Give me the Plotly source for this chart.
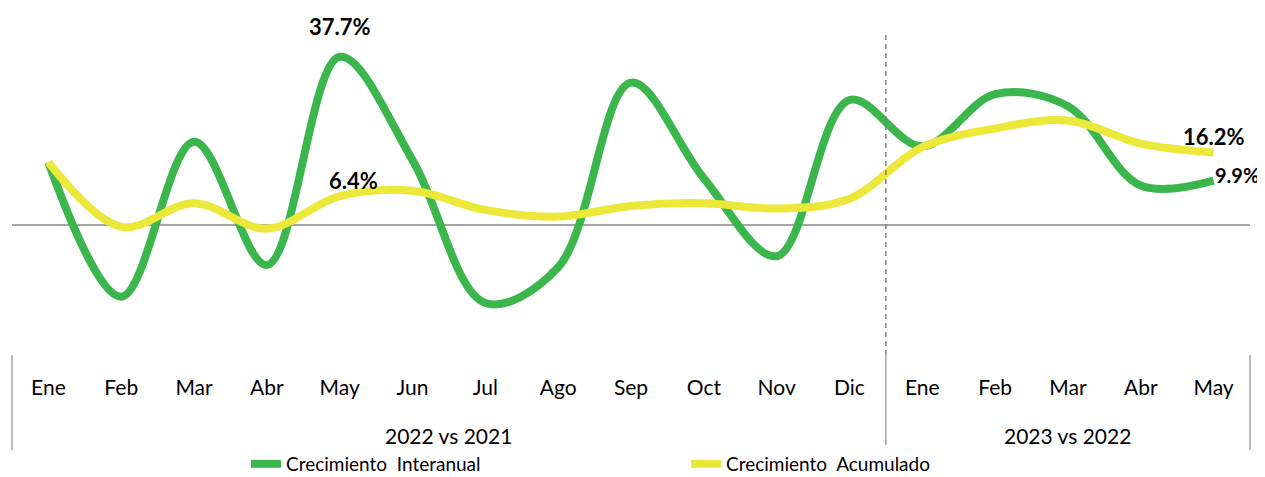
import plotly.graph_objects as go

months = ["Ene", "Feb", "Mar", "Abr", "May", "Jun", "Jul", "Ago", "Sep", "Oct",
          "Nov", "Dic", "Ene", "Feb", "Mar", "Abr", "May"]
periods = ["2022 vs 2021", "2023 vs 2022"]
period_size = [12, 5]

interanual = [14.0, -16.2, 18.6, -9.1, 37.7, 14.5, -17.6, -9.6, 31.9, 10.4,
              -7.1, 28.0, 17.6, 29.3, 26.6, 8.8, 9.9]
acumulado = [14.0, -0.5, 4.8, -0.9, 6.4, 7.6, 3.3, 1.8, 4.2, 4.8,
             3.6, 5.8, 17.4, 21.6, 23.4, 18.2, 16.2]

green = "#3BB64C"
yellow = "#EBE83A"
font_name = "Lato"
pos = list(range(len(months)))

fig = go.Figure()

fig.add_trace(
    go.Scatter(
        x=pos,
        y=interanual,
        mode="lines",
        name="Crecimiento\u00a0\u00a0Interanual",
        line=dict(color=green, width=8, shape="spline", smoothing=1.0)
    )
)

fig.add_trace(
    go.Scatter(
        x=pos,
        y=acumulado,
        mode="lines",
        name="Crecimiento\u00a0\u00a0Acumulado",
        line=dict(color=yellow, width=8, shape="spline", smoothing=1.0)
    )
)

# labels on selected points
labels = [
    (4, interanual[4], "37.7%", 0, 30, "center", 22),
    (4, acumulado[4], "6.4%", 14, 16, "center", 22),
    (16, acumulado[16], "16.2%", 0, 16, "center", 22),
    (16, interanual[16], "9.9%", -1, 6, "left", 20),
]
for idx, val, txt, dx, dy, anchor, size in labels:
    fig.add_annotation(
        x=idx, y=val, text="<b>" + txt + "</b>",
        showarrow=False, xshift=dx, yshift=dy, xanchor=anchor,
        font=dict(size=size, color="black", family=font_name)
    )

# period group labels and dividers under the month labels
n = len(months)
start = 0
fig.add_shape(
    type="line", xref="paper", yref="paper",
    x0=0, x1=0, y0=0, y1=-0.297,
    line=dict(color="#A6A6A6", width=1.5)
)
for name, size in zip(periods, period_size):
    fig.add_annotation(
        x=start + (size - 1) / 2, y=-0.25, xref="x", yref="paper",
        text=name, showarrow=False, yanchor="middle",
        font=dict(size=21, color="black", family=font_name)
    )
    start += size
    fig.add_shape(
        type="line", xref="paper", yref="paper",
        x0=start / n, x1=start / n, y0=0, y1=-0.297,
        line=dict(color="#A6A6A6", width=1.5)
    )

# dashed separator between the two periods
fig.add_shape(
    type="line", xref="paper", yref="paper",
    x0=period_size[0] / n, x1=period_size[0] / n, y0=0, y1=1,
    line=dict(color="#808080", width=1.5, dash="5px,4px")
)

fig.update_xaxes(
    range=[-0.5, n - 0.5],
    tickvals=pos,
    ticktext=months,
    ticks="",
    ticklabelstandoff=18,
    showgrid=False,
    showline=False,
    zeroline=False,
    tickfont=dict(size=21, color="black", family=font_name)
)

fig.update_yaxes(
    range=[-29.3, 42.6],
    showgrid=False,
    showticklabels=False,
    zeroline=True,
    zerolinecolor="#A6A6A6",
    zerolinewidth=1.5
)

# page body adds an 8px offset, so the figure is 8px smaller than the window
fig.update_layout(
    width=1257,
    height=469,
    margin=dict(l=4, r=15, t=27, b=122),
    paper_bgcolor="white",
    plot_bgcolor="white",
    font=dict(family=font_name, size=21, color="black"),
    showlegend=True,
    legend=dict(
        orientation="h",
        xref="container", yref="container",
        x=238 / 1257, y=13 / 469,
        xanchor="left", yanchor="middle",
        entrywidth=395, entrywidthmode="pixels",
        font=dict(size=19, family=font_name, color="black")
    )
)

fig.write_html("out.html")
